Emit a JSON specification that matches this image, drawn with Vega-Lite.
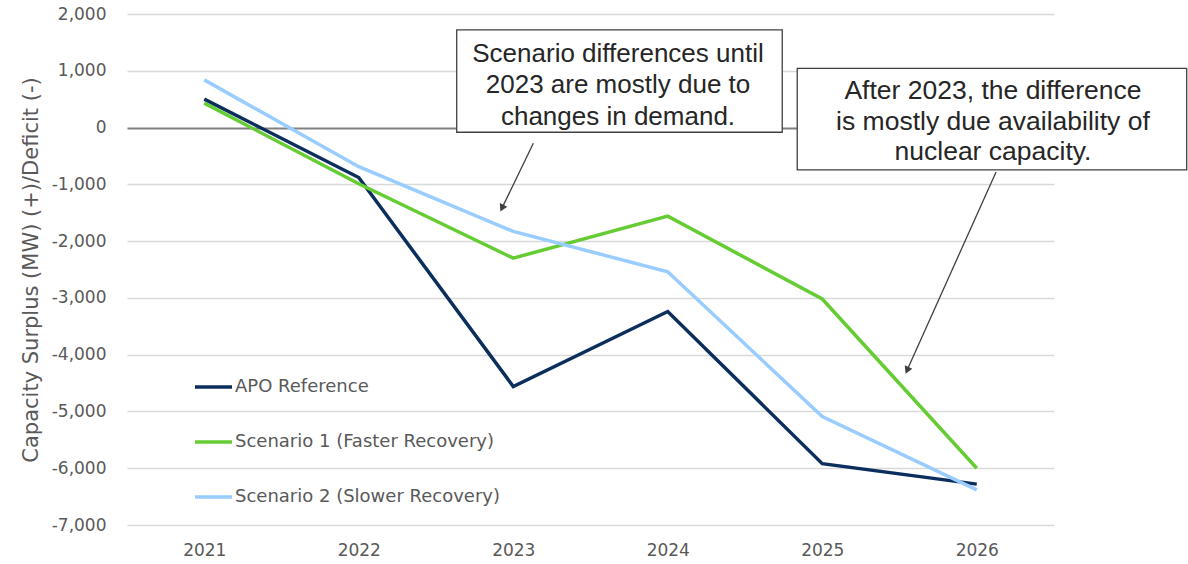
{
  "$schema": "https://vega.github.io/schema/vega-lite/v6.json",
  "width": 927,
  "height": 511,
  "autosize": {"type": "none"},
  "padding": {"left": 127, "top": 14, "right": 134, "bottom": 39},
  "background": "white",
  "config": {"view": {"stroke": null}, "font": "DejaVu Sans"},
  "layer": [
    {
      "data": {
        "values": [
          {"series": "APO Reference", "year": 2021, "value": 500},
          {"series": "APO Reference", "year": 2022, "value": -880},
          {"series": "APO Reference", "year": 2023, "value": -4560},
          {"series": "APO Reference", "year": 2024, "value": -3240},
          {"series": "APO Reference", "year": 2025, "value": -5920},
          {"series": "APO Reference", "year": 2026, "value": -6280},
          {"series": "Scenario 1 (Faster Recovery)", "year": 2021, "value": 430},
          {"series": "Scenario 1 (Faster Recovery)", "year": 2022, "value": -990},
          {"series": "Scenario 1 (Faster Recovery)", "year": 2023, "value": -2300},
          {"series": "Scenario 1 (Faster Recovery)", "year": 2024, "value": -1560},
          {"series": "Scenario 1 (Faster Recovery)", "year": 2025, "value": -3020},
          {"series": "Scenario 1 (Faster Recovery)", "year": 2026, "value": -6000},
          {"series": "Scenario 2 (Slower Recovery)", "year": 2021, "value": 840},
          {"series": "Scenario 2 (Slower Recovery)", "year": 2022, "value": -690},
          {"series": "Scenario 2 (Slower Recovery)", "year": 2023, "value": -1830},
          {"series": "Scenario 2 (Slower Recovery)", "year": 2024, "value": -2540},
          {"series": "Scenario 2 (Slower Recovery)", "year": 2025, "value": -5090},
          {"series": "Scenario 2 (Slower Recovery)", "year": 2026, "value": -6380}
        ]
      },
      "mark": {"type": "line", "strokeWidth": 3.5},
      "encoding": {
        "x": {
          "field": "year",
          "type": "quantitative",
          "scale": {"domain": [2020.5, 2026.5], "nice": false, "zero": false},
          "axis": {
            "values": [2021, 2022, 2023, 2024, 2025, 2026],
            "format": "d",
            "title": null,
            "grid": false,
            "ticks": false,
            "domain": false,
            "labelFontSize": 17,
            "labelColor": "#595959",
            "labelPadding": 17
          }
        },
        "y": {
          "field": "value",
          "type": "quantitative",
          "scale": {"domain": [-7000, 2000], "nice": false, "zero": false},
          "axis": {
            "values": [-7000, -6000, -5000, -4000, -3000, -2000, -1000, 0, 1000, 2000],
            "labelExpr": "replace(format(datum.value, ',.0f'), '\u2212', '-')",
            "title": "Capacity Surplus (MW) (+)/Deficit (-)",
            "titleFontSize": 21,
            "titleFontWeight": "normal",
            "titleColor": "#595959",
            "titlePadding": 10,
            "labelFontSize": 17,
            "labelColor": "#595959",
            "labelPadding": 21,
            "ticks": false,
            "domain": false,
            "gridColor": {"condition": {"test": "datum.value === 0", "value": "#808080"}, "value": "#d9d9d9"},
            "gridWidth": {"condition": {"test": "datum.value === 0", "value": 2}, "value": 1.3}
          }
        },
        "color": {
          "field": "series",
          "type": "nominal",
          "scale": {
            "domain": ["APO Reference", "Scenario 1 (Faster Recovery)", "Scenario 2 (Slower Recovery)"],
            "range": ["#0b2e5d", "#66cc33", "#99ccff"]
          },
          "legend": {
            "title": null,
            "orient": "none",
            "legendX": 66,
            "legendY": 352.5,
            "symbolType": "stroke",
            "symbolSize": 1369,
            "symbolStrokeWidth": 3.5,
            "labelFontSize": 18,
            "labelColor": "#595959",
            "labelOffset": 1,
            "rowPadding": 25,
            "padding": 0,
            "labelLimit": 400
          }
        }
      }
    },
    {
      "data": {"values": [{}]},
      "mark": {"type": "rule", "color": "#404040", "strokeWidth": 1.3},
      "encoding": {
        "x": {"datum": 2023.130},
        "y": {"datum": -277},
        "x2": {"datum": 2022.927},
        "y2": {"datum": -1419}
      }
    },
    {
      "data": {"values": [{}]},
      "mark": {"type": "point", "shape": "triangle-up", "filled": true, "color": "#404040", "opacity": 1, "size": 70, "angle": 205.9},
      "encoding": {
        "x": {"datum": 2022.927},
        "y": {"datum": -1419}
      }
    },
    {
      "data": {"values": [{}]},
      "mark": {"type": "rule", "color": "#404040", "strokeWidth": 1.3},
      "encoding": {
        "x": {"datum": 2026.125},
        "y": {"datum": -782},
        "x2": {"datum": 2025.549},
        "y2": {"datum": -4276}
      }
    },
    {
      "data": {"values": [{}]},
      "mark": {"type": "point", "shape": "triangle-up", "filled": true, "color": "#404040", "opacity": 1, "size": 70, "angle": 204.2},
      "encoding": {
        "x": {"datum": 2025.549},
        "y": {"datum": -4276}
      }
    },
    {
      "data": {"values": [{}]},
      "mark": {"type": "rect", "fill": "white", "stroke": "#404040", "strokeWidth": 1.3},
      "encoding": {
        "x": {"datum": 2022.634},
        "x2": {"datum": 2024.741},
        "y": {"datum": 1719},
        "y2": {"datum": -83}
      }
    },
    {
      "data": {"values": [{}]},
      "mark": {"type": "rect", "fill": "white", "stroke": "#404040", "strokeWidth": 1.3},
      "encoding": {
        "x": {"datum": 2024.838},
        "x2": {"datum": 2027.359},
        "y": {"datum": 1044},
        "y2": {"datum": -747}
      }
    },
    {
      "data": {"values": [{"note": "Scenario differences until\n2023 are mostly due to\nchanges in demand."}]},
      "mark": {"type": "text", "font": "Liberation Sans", "fontSize": 26, "color": "#262626", "align": "center", "baseline": "alphabetic", "lineBreak": "\n", "lineHeight": 31.6},
      "encoding": {
        "x": {"datum": 2023.678},
        "y": {"datum": 1161},
        "text": {"field": "note"}
      }
    },
    {
      "data": {"values": [{"note": "After 2023, the difference\nis mostly due availability of\nnuclear capacity."}]},
      "mark": {"type": "text", "font": "Liberation Sans", "fontSize": 26.5, "color": "#262626", "align": "center", "baseline": "alphabetic", "lineBreak": "\n", "lineHeight": 30.4},
      "encoding": {
        "x": {"datum": 2026.105},
        "y": {"datum": 498},
        "text": {"field": "note"}
      }
    }
  ]
}
